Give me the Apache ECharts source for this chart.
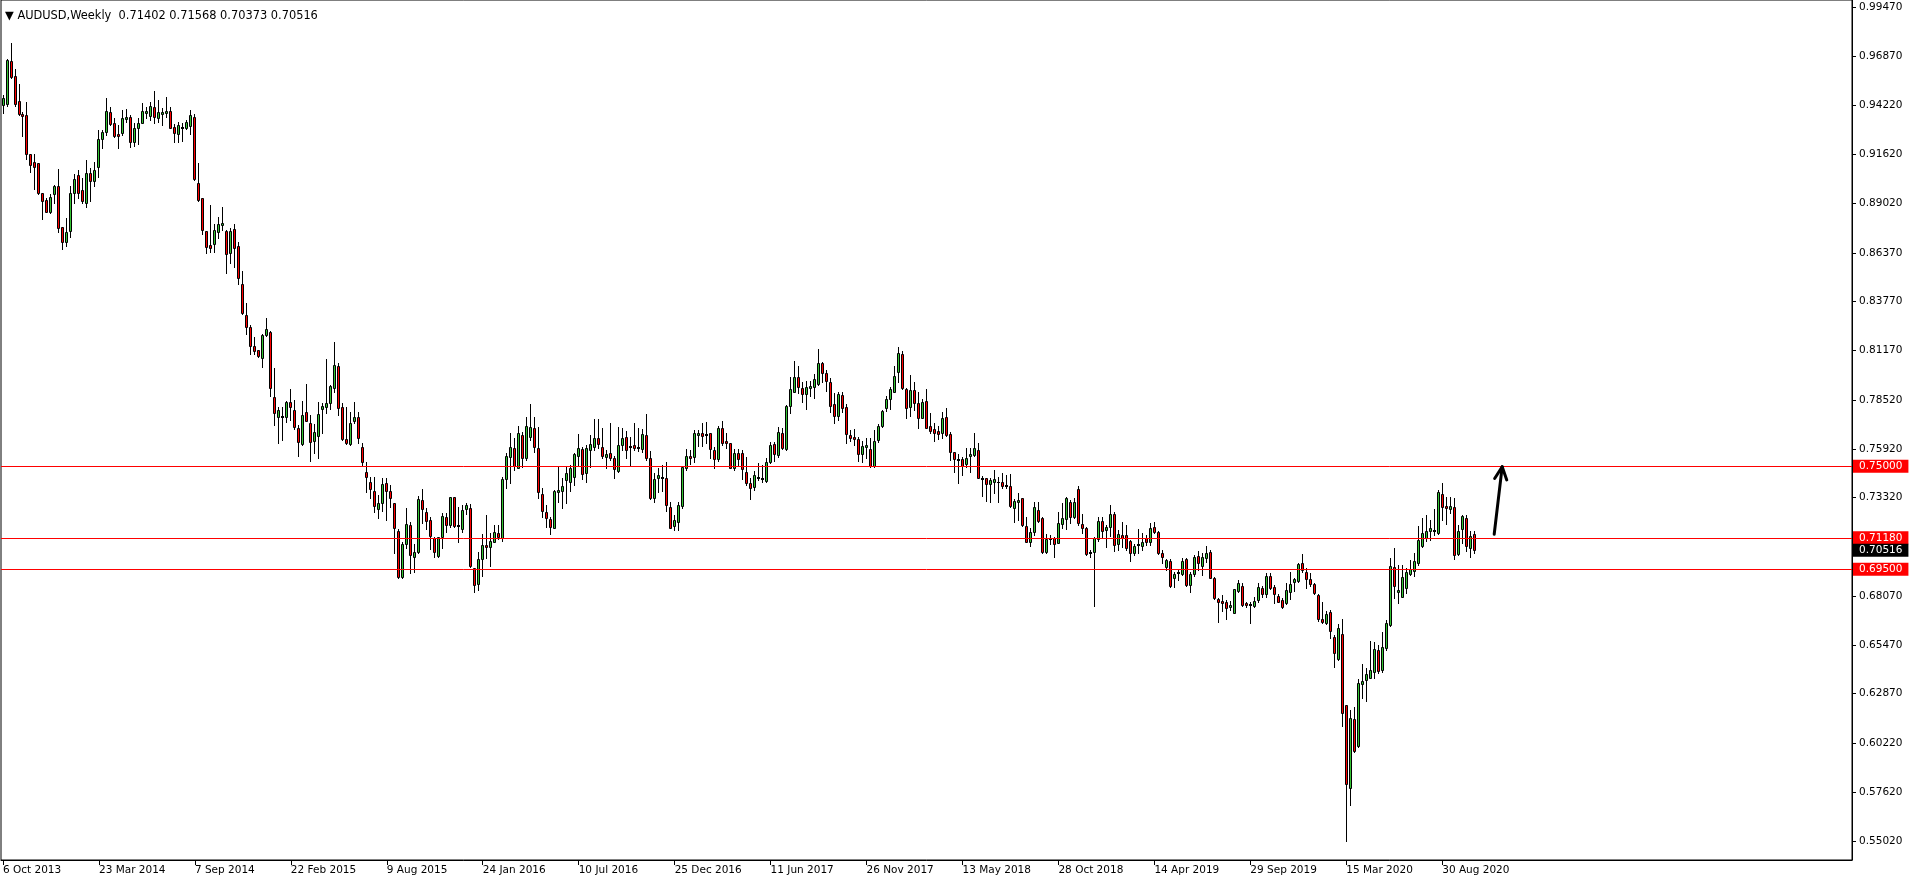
<!DOCTYPE html>
<html><head><meta charset="utf-8">
<script src="https://cdn.jsdelivr.net/npm/echarts@6/dist/echarts.min.js"></script>
<style>html,body{margin:0;padding:0;background:#fff;}#c{width:1916px;height:884px;}</style>
</head><body><div id="c"></div>
<script>
// ---- DATA (weekly AUDUSD candles, starting week of 6 Oct 2013) ----
const openP = [
0.9425,0.9428,0.9659,0.9579,0.9446,0.9377,0.9371,0.9162,0.9119,0.9116,
0.8954,0.8918,0.8856,0.8949,0.8993,0.8773,0.8693,0.8755,0.8954,0.9052,
0.8972,0.8901,0.9061,0.9020,0.9093,0.9242,0.9279,0.9386,0.9327,0.9270,
0.9274,0.9349,0.9359,0.9229,0.9300,0.9327,0.9380,0.9368,0.9416,0.9354,
0.9375,0.9384,0.9393,0.9307,0.9268,0.9304,0.9300,0.9314,0.9362,0.9007,
0.8927,0.8753,0.8679,0.8682,0.8750,0.8787,0.8753,0.8638,0.8762,0.8673,
0.8469,0.8306,0.8240,0.8140,0.8119,0.8074,0.8199,0.8217,0.7867,0.7760,
0.7762,0.7764,0.7840,0.7799,0.7701,0.7616,0.7789,0.7728,0.7636,0.7662,
0.7806,0.7813,0.7835,0.7915,0.8034,0.7817,0.7643,0.7618,0.7742,0.7760,
0.7604,0.7471,0.7417,0.7369,0.7270,0.7305,0.7408,0.7369,0.7302,0.7154,
0.6911,0.7083,0.7186,0.7017,0.7044,0.7319,0.7254,0.7213,0.7115,0.7023,
0.7120,0.7227,0.7186,0.7334,0.7188,0.7163,0.7270,0.7279,0.6955,0.6870,
0.7004,0.7080,0.7067,0.7097,0.7142,0.7119,0.7430,0.7547,0.7595,0.7492,
0.7666,0.7541,0.7657,0.7702,0.7595,0.7350,0.7254,0.7217,0.7172,0.7360,
0.7368,0.7426,0.7417,0.7444,0.7556,0.7591,0.7462,0.7586,0.7604,0.7648,
0.7600,0.7550,0.7568,0.7541,0.7476,0.7613,0.7657,0.7607,0.7612,0.7602,
0.7590,0.7666,0.7542,0.7328,0.7435,0.7442,0.7435,0.7280,0.7183,0.7204,
0.7289,0.7488,0.7554,0.7551,0.7666,0.7675,0.7665,0.7675,0.7586,0.7538,
0.7702,0.7634,0.7622,0.7488,0.7568,0.7568,0.7467,0.7408,0.7387,0.7436,
0.7435,0.7421,0.7524,0.7616,0.7559,0.7675,0.7591,0.7821,0.7897,0.7977,
0.7918,0.7884,0.7918,0.7924,0.7936,0.8048,0.7995,0.7947,0.7830,0.7769,
0.7879,0.7813,0.7666,0.7655,0.7645,0.7563,0.7604,0.7591,0.7503,0.7639,
0.7715,0.7808,0.7856,0.7897,0.8003,0.8096,0.7909,0.7813,0.7906,0.7835,
0.7758,0.7847,0.7714,0.7696,0.7687,0.7675,0.7760,0.7670,0.7574,0.7539,
0.7536,0.7514,0.7556,0.7559,0.7586,0.7435,0.7435,0.7403,0.7417,0.7417,
0.7414,0.7400,0.7394,0.7275,0.7310,0.7328,0.7183,0.7097,0.7147,0.7266,
0.7222,0.7044,0.7112,0.7115,0.7092,0.7190,0.7216,0.7307,0.7227,0.7378,
0.7190,0.7168,0.7044,0.7041,0.7110,0.7207,0.7159,0.7174,0.7245,0.7084,
0.7133,0.7131,0.7101,0.7035,0.7080,0.7076,0.7115,0.7097,0.7174,0.7151,
0.7035,0.6964,0.6994,0.6902,0.6929,0.6925,0.7003,0.6866,0.6925,0.7023,
0.6968,0.7009,0.7041,0.6902,0.6790,0.6781,0.6774,0.6749,0.6719,0.6835,
0.6861,0.6769,0.6763,0.6755,0.6786,0.6849,0.6817,0.6914,0.6854,0.6810,
0.6787,0.6769,0.6828,0.6881,0.6890,0.6982,0.6937,0.6897,0.6870,0.6813,
0.6685,0.6666,0.6721,0.6588,0.6472,0.6605,0.6227,0.5783,0.6151,0.6010,
0.6339,0.6360,0.6372,0.6404,0.6520,0.6413,0.6529,0.6653,0.6961,0.6831,
0.6804,0.6852,0.6925,0.6943,0.6985,0.7076,0.7115,0.7156,0.7156,0.7142,
0.7350,0.7288,0.7270,0.7284,0.7030,0.7163,0.7222,0.7062,0.71402
];
const closeP = [
0.9460,0.9665,0.9576,0.9428,0.9375,0.9364,0.9162,0.9105,0.9092,0.8954,
0.8915,0.8856,0.8932,0.8993,0.8767,0.8693,0.8746,0.8954,0.9029,0.8954,
0.8915,0.9061,0.9021,0.9078,0.9243,0.9279,0.9393,0.9322,0.9261,0.9261,
0.9354,0.9359,0.9226,0.9300,0.9327,0.9395,0.9391,0.9419,0.9359,0.9386,
0.9386,0.9393,0.9304,0.9274,0.9318,0.9309,0.9332,0.9371,0.9030,0.8918,
0.8759,0.8666,0.8664,0.8759,0.8790,0.8797,0.8629,0.8753,0.8661,0.8504,
0.8318,0.8243,0.8140,0.8115,0.8087,0.8197,0.8229,0.7915,0.7781,0.7799,
0.7765,0.7840,0.7813,0.7710,0.7630,0.7771,0.7742,0.7627,0.7680,0.7778,
0.7821,0.7835,0.7927,0.8039,0.7808,0.7643,0.7622,0.7728,0.7763,0.7652,
0.7524,0.7440,0.7376,0.7288,0.7305,0.7403,0.7369,0.7328,0.7168,0.6911,
0.7083,0.7191,0.7026,0.7040,0.7323,0.7270,0.7208,0.7129,0.7044,0.7120,
0.7234,0.7186,0.7334,0.7183,0.7180,0.7266,0.7293,0.6968,0.6866,0.7004,
0.7080,0.7067,0.7101,0.7147,0.7124,0.7430,0.7556,0.7600,0.7501,0.7675,
0.7545,0.7714,0.7709,0.7600,0.7364,0.7263,0.7222,0.7177,0.7368,0.7373,
0.7394,0.7462,0.7488,0.7563,0.7595,0.7456,0.7598,0.7616,0.7648,0.7618,
0.7556,0.7565,0.7541,0.7483,0.7613,0.7648,0.7586,0.7600,0.7595,0.7595,
0.7670,0.7542,0.7332,0.7430,0.7453,0.7439,0.7293,0.7172,0.7213,0.7293,
0.7494,0.7554,0.7542,0.7679,0.7675,0.7663,0.7670,0.7590,0.7536,0.7702,
0.7622,0.7622,0.7492,0.7568,0.7538,0.7485,0.7408,0.7382,0.7453,0.7441,
0.7432,0.7524,0.7613,0.7563,0.7684,0.7599,0.7821,0.7909,0.7977,0.7924,
0.7884,0.7920,0.7929,0.7964,0.8048,0.7995,0.7956,0.7822,0.7769,0.7883,
0.7808,0.7669,0.7648,0.7643,0.7563,0.7607,0.7613,0.7503,0.7634,0.7715,
0.7794,0.7856,0.7911,0.7980,0.8101,0.7915,0.7808,0.7906,0.7835,0.7758,
0.7844,0.7705,0.7689,0.7675,0.7670,0.7755,0.7666,0.7577,0.7536,0.7535,
0.7503,0.7542,0.7567,0.7595,0.7435,0.7432,0.7403,0.7426,0.7430,0.7414,
0.7396,0.7395,0.7289,0.7316,0.7319,0.7186,0.7097,0.7147,0.7284,0.7208,
0.7040,0.7112,0.7116,0.7085,0.7195,0.7222,0.7328,0.7227,0.7307,0.7195,
0.7172,0.7030,0.7035,0.7115,0.7209,0.7156,0.7175,0.7245,0.7080,0.7138,
0.7115,0.7066,0.7039,0.7076,0.7085,0.7094,0.7097,0.7168,0.7147,0.7035,
0.7017,0.7000,0.6861,0.6925,0.6938,0.6996,0.6866,0.6925,0.7018,0.6982,
0.7014,0.7035,0.6902,0.6796,0.6778,0.6772,0.6742,0.6758,0.6843,0.6875,
0.6760,0.6760,0.6758,0.6783,0.6854,0.6817,0.6914,0.6852,0.6817,0.6778,
0.6751,0.6840,0.6870,0.6897,0.6978,0.6946,0.6898,0.6870,0.6822,0.6683,
0.6671,0.6712,0.6623,0.6502,0.6636,0.6182,0.5804,0.6156,0.5984,0.6342,
0.6357,0.6392,0.6413,0.6525,0.6408,0.6534,0.6662,0.6968,0.6863,0.6840,
0.6911,0.6937,0.6950,0.6994,0.7106,0.7142,0.7154,0.7172,0.7159,0.7360,
0.7281,0.7279,0.7288,0.7026,0.7156,0.7236,0.7074,0.7128,0.70516
];
const lowP = [
0.9380,0.9421,0.9567,0.9419,0.9371,0.9261,0.9135,0.9069,0.8977,0.8949,
0.8815,0.8852,0.8851,0.8901,0.8750,0.8656,0.8673,0.8723,0.8901,0.8927,
0.8901,0.8883,0.8915,0.8993,0.9039,0.9194,0.9265,0.9318,0.9256,0.9194,
0.9265,0.9332,0.9203,0.9206,0.9217,0.9327,0.9354,0.9345,0.9327,0.9332,
0.9318,0.9363,0.9300,0.9226,0.9229,0.9233,0.9297,0.9268,0.9025,0.8915,
0.8736,0.8638,0.8643,0.8643,0.8714,0.8758,0.8531,0.8584,0.8559,0.8471,
0.8311,0.8204,0.8098,0.8098,0.8080,0.8027,0.8193,0.7876,0.7719,0.7622,
0.7639,0.7737,0.7746,0.7698,0.7556,0.7612,0.7742,0.7529,0.7572,0.7541,
0.7678,0.7781,0.7806,0.7897,0.7773,0.7639,0.7616,0.7612,0.7728,0.7622,
0.7506,0.7364,0.7328,0.7257,0.7222,0.7263,0.7213,0.7280,0.7035,0.6902,
0.6902,0.7062,0.6932,0.6937,0.7035,0.7195,0.7165,0.7058,0.7017,0.7017,
0.7065,0.7151,0.7177,0.7177,0.7094,0.7151,0.7243,0.6964,0.6827,0.6840,
0.6916,0.7009,0.6970,0.7094,0.7112,0.7103,0.7385,0.7412,0.7479,0.7488,
0.7497,0.7533,0.7639,0.7577,0.7328,0.7231,0.7177,0.7138,0.7168,0.7311,
0.7279,0.7302,0.7368,0.7400,0.7506,0.7432,0.7414,0.7497,0.7586,0.7595,
0.7545,0.7488,0.7533,0.7435,0.7470,0.7586,0.7545,0.7501,0.7586,0.7581,
0.7577,0.7533,0.7325,0.7307,0.7364,0.7368,0.7261,0.7168,0.7160,0.7160,
0.7279,0.7479,0.7511,0.7524,0.7609,0.7607,0.7625,0.7545,0.7488,0.7527,
0.7613,0.7595,0.7488,0.7479,0.7506,0.7431,0.7400,0.7325,0.7373,0.7426,
0.7417,0.7417,0.7519,0.7527,0.7550,0.7590,0.7586,0.7781,0.7893,0.7888,
0.7843,0.7803,0.7874,0.7865,0.7932,0.7950,0.7900,0.7790,0.7728,0.7746,
0.7790,0.7622,0.7634,0.7613,0.7527,0.7524,0.7545,0.7497,0.7497,0.7630,
0.7710,0.7794,0.7804,0.7893,0.7950,0.7911,0.7755,0.7769,0.7799,0.7705,
0.7755,0.7705,0.7675,0.7634,0.7643,0.7648,0.7662,0.7533,0.7471,0.7408,
0.7453,0.7497,0.7471,0.7556,0.7435,0.7343,0.7314,0.7307,0.7355,0.7311,
0.7382,0.7382,0.7284,0.7201,0.7213,0.7183,0.7094,0.7076,0.7133,0.7204,
0.7035,0.7039,0.7085,0.7018,0.7089,0.7168,0.7163,0.7195,0.7222,0.7186,
0.7142,0.7026,0.7014,0.6756,0.7103,0.7124,0.7071,0.7129,0.7049,0.7053,
0.7067,0.7053,0.6996,0.7026,0.7035,0.7053,0.7080,0.7080,0.7142,0.7032,
0.6985,0.6947,0.6858,0.6858,0.6893,0.6920,0.6863,0.6827,0.6914,0.6947,
0.6920,0.6991,0.6902,0.6792,0.6671,0.6730,0.6685,0.6733,0.6716,0.6831,
0.6755,0.6751,0.6666,0.6748,0.6777,0.6804,0.6804,0.6845,0.6769,0.6774,
0.6746,0.6763,0.6792,0.6834,0.6884,0.6937,0.6849,0.6861,0.6817,0.6676,
0.6666,0.6659,0.6582,0.6431,0.6467,0.6117,0.5502,0.5694,0.5978,0.6005,
0.6262,0.6248,0.6369,0.6369,0.6399,0.6404,0.6520,0.6650,0.6796,0.6769,
0.6801,0.6826,0.6920,0.6916,0.6973,0.7071,0.7103,0.7106,0.7133,0.7138,
0.7213,0.7190,0.7248,0.7003,0.7026,0.7089,0.7049,0.7018,0.70373
];
const highP = [
0.9478,0.9670,0.9753,0.9617,0.9535,0.9389,0.9439,0.9164,0.9164,0.9116,
0.8954,0.8927,0.8949,0.8998,0.9084,0.8773,0.8824,0.8993,0.9057,0.9078,
0.9034,0.9132,0.9087,0.9123,0.9292,0.9292,0.9460,0.9416,0.9354,0.9318,
0.9398,0.9402,0.9371,0.9327,0.9358,0.9434,0.9416,0.9443,0.9500,0.9451,
0.9407,0.9466,0.9416,0.9322,0.9332,0.9327,0.9345,0.9398,0.9375,0.9114,
0.8927,0.8753,0.8892,0.8790,0.8830,0.8880,0.8758,0.8767,0.8790,0.8693,
0.8540,0.8371,0.8252,0.8190,0.8119,0.8204,0.8288,0.8222,0.8021,0.7817,
0.7817,0.7849,0.7911,0.7852,0.7719,0.7847,0.7938,0.7772,0.7724,0.7840,
0.7835,0.8071,0.7932,0.8160,0.8048,0.7835,0.7813,0.7790,0.7843,0.7790,
0.7622,0.7524,0.7444,0.7444,0.7346,0.7435,0.7435,0.7399,0.7302,0.7163,
0.7097,0.7279,0.7204,0.7083,0.7341,0.7376,0.7279,0.7231,0.7124,0.7124,
0.7252,0.7249,0.7337,0.7337,0.7284,0.7293,0.7302,0.7296,0.6959,0.7044,
0.7137,0.7240,0.7142,0.7186,0.7186,0.7444,0.7568,0.7675,0.7648,0.7716,
0.7684,0.7764,0.7831,0.7760,0.7710,0.7382,0.7293,0.7231,0.7373,0.7503,
0.7435,0.7503,0.7506,0.7568,0.7670,0.7604,0.7613,0.7666,0.7751,0.7751,
0.7702,0.7586,0.7728,0.7556,0.7710,0.7705,0.7687,0.7657,0.7728,0.7702,
0.7696,0.7778,0.7581,0.7462,0.7492,0.7506,0.7524,0.7311,0.7240,0.7311,
0.7501,0.7590,0.7586,0.7693,0.7693,0.7728,0.7737,0.7679,0.7604,0.7716,
0.7742,0.7678,0.7625,0.7590,0.7590,0.7586,0.7551,0.7435,0.7474,0.7515,
0.7506,0.7542,0.7631,0.7631,0.7707,0.7702,0.7826,0.7977,0.8060,0.8036,
0.7950,0.7954,0.7954,0.7989,0.8124,0.8057,0.8012,0.7968,0.7888,0.7897,
0.7893,0.7829,0.7693,0.7698,0.7657,0.7634,0.7648,0.7648,0.7693,0.7723,
0.7799,0.7874,0.7920,0.8034,0.8133,0.8114,0.7915,0.7986,0.7950,0.7893,
0.7856,0.7911,0.7781,0.7728,0.7716,0.7790,0.7812,0.7684,0.7577,0.7563,
0.7551,0.7599,0.7595,0.7675,0.7622,0.7449,0.7439,0.7435,0.7479,0.7444,
0.7462,0.7453,0.7456,0.7325,0.7355,0.7332,0.7231,0.7168,0.7311,0.7311,
0.7231,0.7137,0.7133,0.7124,0.7254,0.7302,0.7337,0.7319,0.7328,0.7396,
0.7245,0.7174,0.7053,0.7124,0.7231,0.7231,0.7186,0.7293,0.7257,0.7159,
0.7204,0.7186,0.7106,0.7085,0.7165,0.7146,0.7133,0.7195,0.7204,0.7154,
0.7053,0.7004,0.7003,0.6938,0.6947,0.7009,0.7009,0.6938,0.7027,0.7049,
0.7035,0.7076,0.7053,0.6911,0.6795,0.6813,0.6786,0.6783,0.6845,0.6893,
0.6875,0.6778,0.6778,0.6804,0.6875,0.6863,0.6932,0.6929,0.6866,0.6817,
0.6796,0.6875,0.6938,0.6906,0.6985,0.7032,0.6955,0.6932,0.6875,0.6817,
0.6778,0.6728,0.6733,0.6600,0.6659,0.6684,0.6227,0.6200,0.6218,0.6366,
0.6445,0.6422,0.6568,0.6564,0.6547,0.6614,0.6680,0.7009,0.7062,0.6973,
0.6973,0.6955,0.7000,0.7039,0.7183,0.7225,0.7239,0.7213,0.7271,0.7373,
0.7408,0.7337,0.7337,0.7328,0.7186,0.7239,0.7239,0.7156,0.71568
];
const xTickLabels = ['6 Oct 2013','23 Mar 2014','7 Sep 2014','22 Feb 2015','9 Aug 2015','24 Jan 2016',
  '10 Jul 2016','25 Dec 2016','11 Jun 2017','26 Nov 2017','13 May 2018','28 Oct 2018','14 Apr 2019',
  '29 Sep 2019','15 Mar 2020','30 Aug 2020'];
const yTickValues = [0.99470,0.96870,0.94220,0.91620,0.89020,0.86370,0.83770,0.81170,0.78520,
  0.75920,0.73320,0.68070,0.65470,0.62870,0.60220,0.57620,0.55020];
const levelLines = [0.75000, 0.71180, 0.69500];
const currentPrice = 0.70516;
const titleText = '\u25BC AUDUSD,Weekly  0.71402 0.71568 0.70373 0.70516';
// hand-drawn arrow annotation, in [bar index, price]
const arrowStart = [372.6, 0.7137];
const arrowTip = [375.3, 0.7497];

// ---- CHART ----
const SLOTS = 463;           // bars + empty right margin of the window
const months = ['Jan','Feb','Mar','Apr','May','Jun','Jul','Aug','Sep','Oct','Nov','Dec'];
const categories = [];
for (let i = 0; i < SLOTS; i++) {
  const d = new Date(Date.UTC(2013, 9, 6 + 7 * i));
  categories.push(d.getUTCDate() + ' ' + months[d.getUTCMonth()] + ' ' + d.getUTCFullYear());
}
const nBars = openP.length;
const candles = openP.map((o, i) => [i, o, closeP[i], lowP[i], highP[i]]);
const FONT = 'DejaVu Sans';
const BULL = '#33c433', BEAR = '#ff0000';
const tickShown = (idx) => idx % 24 === 0 && idx < nBars;

const chart = echarts.init(document.getElementById('c'), null, {renderer: 'canvas'});
const boxLabel = (txt, bg) => ({show: true, position: 'end', distance: 1, formatter: txt,
  backgroundColor: bg, color: '#ffffff', fontFamily: FONT, fontSize: 10.5,
  padding: [1, 6, 1, 6], lineHeight: 11});
const markData = levelLines.map(v => ({
  yAxis: v,
  lineStyle: {color: '#ff0000', width: 1, type: 'solid'},
  label: boxLabel(v.toFixed(5), '#ff0000')
}));
markData.push({
  yAxis: currentPrice,
  lineStyle: {color: 'rgba(0,0,0,0)', width: 0},
  label: boxLabel(currentPrice.toFixed(5), '#000000')
});

function renderCandle(params, api) {
  const i = api.value(0), o = api.value(1), c = api.value(2), l = api.value(3), h = api.value(4);
  const pO = api.coord([i, o]), pC = api.coord([i, c]);
  const pL = api.coord([i, l]), pH = api.coord([i, h]);
  const col = Math.floor(pO[0] + 0.01);
  const yO = Math.round(pO[1]), yC = Math.round(pC[1]);
  const yH = Math.round(pH[1]), yL = Math.round(pL[1]);
  const top = Math.min(yO, yC), bot = Math.max(yO, yC);
  const children = [{
    type: 'rect', shape: {x: col, y: yH, width: 1, height: yL - yH + 1},
    style: {fill: '#000000'}
  }];
  if (bot - top >= 2) {
    children.push({type: 'rect', shape: {x: col - 0.5, y: top + 0.5, width: 2, height: bot - top},
      style: {fill: c >= o ? BULL : BEAR, stroke: '#000000', lineWidth: 1}});
  } else {
    children.push({type: 'rect', shape: {x: col - 1, y: top, width: 3, height: bot - top + 1},
      style: {fill: '#000000'}});
  }
  return {type: 'group', children: children};
}

chart.setOption({
  animation: false,
  backgroundColor: '#ffffff',
  title: {text: titleText, left: 0, top: 6,
          textStyle: {fontFamily: FONT, fontSize: 11.4, fontWeight: 'normal', color: '#000000'}},
  grid: {left: 1, right: 64, top: 0, bottom: 24, show: true, borderColor: '#000000', borderWidth: 1,
         backgroundColor: '#ffffff'},
  xAxis: {
    type: 'category', data: categories, boundaryGap: true,
    axisLine: {show: true, lineStyle: {color: '#000000', width: 1}},
    axisTick: {show: true, interval: tickShown, alignWithLabel: true, length: 5,
               lineStyle: {color: '#000000'}},
    axisLabel: {interval: tickShown, align: 'left', margin: 5, color: '#000000',
                fontFamily: FONT, fontSize: 10.5,
                formatter: (v, idx) => xTickLabels[Math.round(idx / 24)] || ''},
    splitLine: {show: false}
  },
  yAxis: {
    type: 'value', position: 'right', scale: true,
    min: 0.54008, max: 0.99843,
    axisLine: {show: true, lineStyle: {color: '#000000', width: 1}},
    axisTick: {show: true, customValues: yTickValues, length: 4, lineStyle: {color: '#000000'}},
    axisLabel: {customValues: yTickValues, margin: 7, color: '#000000', fontFamily: FONT,
                fontSize: 10.5, formatter: v => v.toFixed(5)},
    splitLine: {show: false}
  },
  series: [{
    type: 'custom',
    data: candles,
    encode: {x: 0, y: [1, 2, 3, 4]},
    renderItem: renderCandle,
    clip: true,
    markLine: {symbol: ['none', 'none'], silent: true, animation: false, precision: 5,
               data: markData}
  }]
});

function drawArrow() {
  const p0 = chart.convertToPixel({xAxisIndex: 0, yAxisIndex: 0}, arrowStart);
  const p1 = chart.convertToPixel({xAxisIndex: 0, yAxisIndex: 0}, arrowTip);
  const dx = p1[0] - p0[0], dy = p1[1] - p0[1];
  const len = Math.sqrt(dx * dx + dy * dy);
  const ux = dx / len, uy = dy / len;
  const head = 14, spread = 0.45;
  const l = [p1[0] - head * (ux * Math.cos(spread) - uy * Math.sin(spread)),
             p1[1] - head * (uy * Math.cos(spread) + ux * Math.sin(spread))];
  const r = [p1[0] - head * (ux * Math.cos(-spread) - uy * Math.sin(-spread)),
             p1[1] - head * (uy * Math.cos(-spread) + ux * Math.sin(-spread))];
  chart.setOption({graphic: [
    {type: 'polyline', shape: {points: [p0, p1]},
     style: {stroke: '#000000', lineWidth: 3, lineCap: 'round', fill: null}, z: 100},
    {type: 'polyline', shape: {points: [l, p1, r]},
     style: {stroke: '#000000', lineWidth: 3, lineCap: 'round', lineJoin: 'round', fill: null}, z: 100}
  ]});
}
drawArrow();
</script>
</body></html>
